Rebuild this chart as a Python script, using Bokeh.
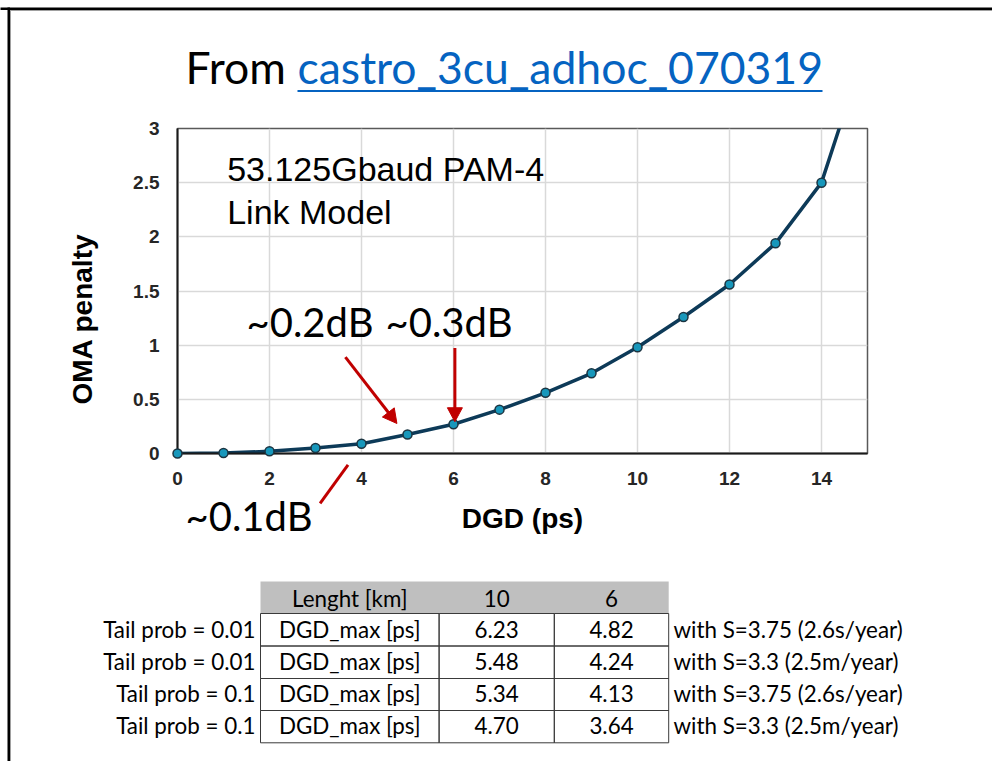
import math
from bokeh.plotting import figure
from bokeh.models import FixedTicker, NumeralTickFormatter, Range1d
from bokeh.core.properties import value
from bokeh.embed import file_html
from bokeh.resources import INLINE

# ---------------- data ----------------
dgd_ps = [0, 1, 2, 3, 4, 5, 6, 7, 8, 9, 10, 11, 12, 13, 14, 15]
oma_penalty = [0.0, 0.005, 0.02, 0.05, 0.09, 0.175, 0.27, 0.405, 0.56, 0.74,
               0.98, 1.26, 1.56, 1.94, 2.5, 3.8]
x_ticks = [0, 2, 4, 6, 8, 10, 12, 14]
y_ticks = [0, 0.5, 1, 1.5, 2, 2.5, 3]

table_header = ["Lenght [km]", "10", "6"]
row_param = ["DGD_max [ps]", "DGD_max [ps]", "DGD_max [ps]", "DGD_max [ps]"]
tail_labels = ["Tail prob = 0.01", "Tail prob = 0.01", "Tail prob = 0.1", "Tail prob = 0.1"]
dgd_max_10km = [6.23, 5.48, 5.34, 4.70]
dgd_max_6km = [4.82, 4.24, 4.13, 3.64]
notes = ["with S=3.75 (2.6s/year)", "with S=3.3 (2.5m/year)",
         "with S=3.75 (2.6s/year)", "with S=3.3 (2.5m/year)"]

# ---------------- figure ----------------
W, H = 992, 761
FL, FR, FT, FB = 177, 867, 128, 453          # frame edges (canvas px)
p = figure(width=W, height=H, x_range=(0, 15), y_range=(0, 3),
           output_backend="svg", toolbar_location=None,
           min_border_left=FL, min_border_right=W - FR,
           min_border_top=FT, min_border_bottom=H - FB)
p.extra_x_ranges = {"px": Range1d(FL, FR)}
p.extra_y_ranges = {"px": Range1d(FB, FT)}
p.background_fill_color = "white"
p.border_fill_color = "white"
p.outline_line_color = "#595959"
p.outline_line_width = 1.5

p.xaxis.ticker = FixedTicker(ticks=x_ticks)
p.yaxis.ticker = FixedTicker(ticks=y_ticks)
p.yaxis.formatter = NumeralTickFormatter(format="0.[0]")
for ax in (p.xaxis, p.yaxis):
    ax.major_tick_out = 0
    ax.major_tick_in = 0
    ax.minor_tick_out = 0
    ax.minor_tick_in = 0
    ax.axis_line_color = "#1a1a1a"
    ax.axis_line_width = 2
    ax.major_label_text_font = "Liberation Sans"
    ax.major_label_text_font_style = "bold"
    ax.major_label_text_font_size = "19px"
    ax.major_label_text_color = "#262626"
    ax.axis_label_text_font = "Liberation Sans"
    ax.axis_label_text_font_style = "bold"
    ax.axis_label_text_font_size = "28px"
    ax.axis_label_text_color = "#000000"
p.xaxis.axis_label = "DGD (ps)"
p.xaxis.major_label_standoff = 18
p.yaxis.major_label_standoff = 18
p.xaxis.axis_label_standoff = 15

p.xgrid.ticker = FixedTicker(ticks=x_ticks)
p.ygrid.ticker = FixedTicker(ticks=y_ticks)
p.grid.grid_line_color = "#d9d9d9"
p.grid.grid_line_width = 1.5

# curve (clipped to the frame) and markers (the visible ones, drawn unclipped)
p.line(dgd_ps, oma_penalty, line_color="#0d3a58", line_width=3.5)
marks = p.scatter(dgd_ps[:-1], oma_penalty[:-1], size=9, fill_color="#1797bb",
                  line_color="#1b3441", line_width=1.5)
marks.level = "overlay"

# ---------------- overlay helpers (canvas-pixel coordinates) ----------------
K = 0.40   # the glyph anchors text near its middle: shift to put the baseline at y

def ptext(xs, ys, texts, size, color="#000000", font="Lato", align="left",
          style="normal", angle=0.0):
    if angle:
        xs = [x - K * size for x in xs]
    else:
        ys = [y - K * size for y in ys]
    r = p.text(x=xs, y=ys, text=texts, x_range_name="px", y_range_name="px",
               text_font=value(font), text_font_size=f"{size}px",
               text_color=color, text_align=align, text_baseline="alphabetic",
               text_font_style=style, angle=angle)
    r.level = "overlay"
    return r

def pbox(ls, rs, ts, bs, fill=None, line=None, lw=1.0):
    r = p.quad(left=ls, right=rs, top=ts, bottom=bs, x_range_name="px",
               y_range_name="px",
               fill_color=fill if fill else "white", fill_alpha=1 if fill else 0,
               line_color=line if line else "white", line_alpha=1 if line else 0,
               line_width=lw)
    r.level = "overlay"
    return r

# slide border (top & left)
pbox([0, 7], [W, 9.5], [7, 7], [9.5, H], fill="#000000")
pbox([9.5, 9.5], [W, 10.5], [9.5, 9.5], [10.5, H], fill="#a0a0a0")

# title
ptext([185], [83.5], ["From"], 44.5)
ptext([297], [83.5], ["castro_3cu_adhoc_070319"], 44.5, color="#0563c1")
pbox([297], [822], [89.5], [91.5], fill="#0563c1")

# y axis title (placed like the original, below the frame centre)
ptext([93], [318.5], ["OMA penalty"], 28, font="Liberation Sans", align="center",
      style="bold", angle=math.pi / 2)

# chart annotations
ptext([226.7, 226.7], [182.3, 225], ["53.125Gbaud PAM-4", "Link Model"], 34,
      font="Liberation Sans")
ptext([246, 385, 185], [337, 337, 531.7], ["~0.2dB", "~0.3dB", "~0.1dB"], 40)

# red arrows (start x, start y, tip x, tip y) in data units
red = "#c00000"
arrows = [(3.65, 0.89, 4.77, 0.277), (6.03, 0.974, 6.03, 0.293),
          (3.10, -0.46, 3.86, -0.015)]
HEAD_L, HEAD_W = 14.0, 15.0
sxp, syp = (FR - FL) / 15.0, (FB - FT) / 3.0   # px per data unit
x0s, y0s, x1s, y1s, hxs, hys = [], [], [], [], [], []
for xs, ys, xe, ye in arrows:
    dx, dy = (xe - xs) * sxp, (ye - ys) * syp
    ln = math.hypot(dx, dy)
    ux, uy = dx / ln, dy / ln
    bx, by = -ux * HEAD_L, -uy * HEAD_L            # base centre relative to tip (px)
    nx, ny = -uy * HEAD_W / 2, ux * HEAD_W / 2
    x0s.append(xs); y0s.append(ys)
    x1s.append(xe + (bx + ux * 2) / sxp); y1s.append(ye + (by + uy * 2) / syp)
    hxs.append([xe, xe + (bx + nx) / sxp, xe + (bx - nx) / sxp])
    hys.append([ye, ye + (by + ny) / syp, ye + (by - ny) / syp])
shafts = p.segment(x0=x0s, y0=y0s, x1=x1s, y1=y1s, line_color=red, line_width=3)
shafts.level = "overlay"
heads = p.patches(xs=hxs, ys=hys, fill_color=red, line_color=red, line_width=1)
heads.level = "overlay"

# ---------------- table ----------------
col_edges = [260, 438.6, 553.8, 668.2]
row_edges = [581, 613, 645.5, 678, 710, 742.3]
baselines = [638.3, 670, 702.3, 734.3]
tsize = 22.4
centers = [(col_edges[j] + col_edges[j + 1]) / 2 for j in range(3)]

pbox([col_edges[0]], [col_edges[-1]], [row_edges[0]], [row_edges[1]], fill="#bfbfbf")
ptext(centers, [606.7] * 3, table_header, tsize, align="center")

bl, br, bt, bb = [], [], [], []
for i in range(4):
    for j in range(3):
        bl.append(col_edges[j]); br.append(col_edges[j + 1])
        bt.append(row_edges[i + 1]); bb.append(row_edges[i + 2])
pbox(bl, br, bt, bb, line="#3a3a3a", lw=1)

ptext(centers[0:1] * 4, baselines, row_param, tsize, align="center")
ptext(centers[1:2] * 4, baselines, [f"{v:.2f}" for v in dgd_max_10km], tsize,
      align="center")
ptext(centers[2:3] * 4, baselines, [f"{v:.2f}" for v in dgd_max_6km], tsize,
      align="center")
ptext([255] * 4, baselines, tail_labels, tsize, align="right")
ptext([673] * 4, baselines, notes, tsize)

open("out.html", "w").write(file_html(p, INLINE))
